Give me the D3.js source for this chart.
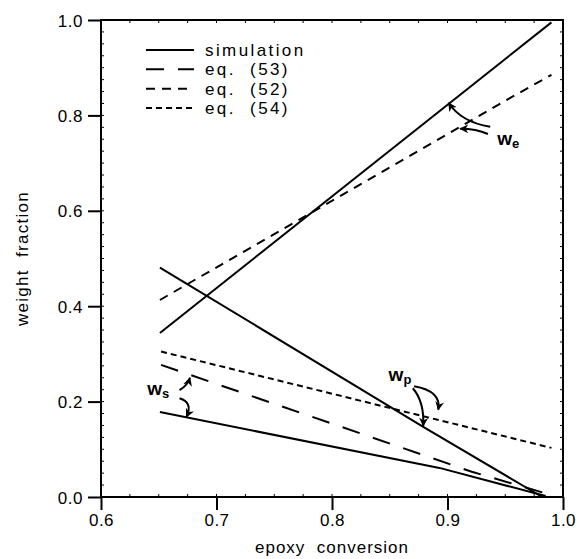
<!DOCTYPE html>
<html>
<head>
<meta charset="utf-8">
<script src="https://cdn.jsdelivr.net/npm/d3@7/dist/d3.min.js"></script>
<style>
  body { margin: 0; background: #fff; }
  text { font-family: "Liberation Sans", Arial, sans-serif; fill: #000; }
</style>
</head>
<body>
<svg id="chart" width="580" height="559"></svg>
<script>
// ---- data ----
const xTicks = [0.6, 0.7, 0.8, 0.9, 1.0];
const yTicks = [0.0, 0.2, 0.4, 0.6, 0.8, 1.0];

// simulation curves
const simWe = [[0.651, 0.344], [0.99, 0.995]];
const simWp = [[0.651, 0.481], [0.879, 0.147], [0.982, 0.0]];
const simWs = [[0.651, 0.178], [0.893, 0.061], [0.985, 0.002]];
// equations
const eq53Ws = [[0.652, 0.277], [0.921, 0.053], [0.99, 0.004]];
const eq52We = [[0.651, 0.413], [0.948, 0.828], [0.99, 0.885]];
const eq54Wp = [[0.652, 0.305], [0.99, 0.103]];

const legendLabels = ["simulation", "eq. (53)", "eq. (52)", "eq. (54)"];
const legendDash = [null, "18,14", "9,7", "6,4"];

// annotation labels [x, y, main, sub]
const annoLabels = [
  [0.943, 0.738, "w", "e"],
  [0.849, 0.243, "w", "p"],
  [0.640, 0.214, "w", "s"]
];
// annotation arrows: [start, control, tip]
const annoArrows = [
  [[0.937, 0.776], [0.912, 0.786], [0.901, 0.826]],
  [[0.935, 0.761], [0.925, 0.772], [0.911, 0.772]],
  [[0.871, 0.232], [0.895, 0.222], [0.892, 0.183]],
  [[0.870, 0.228], [0.880, 0.200], [0.879, 0.149]],
  [[0.668, 0.224], [0.675, 0.234], [0.677, 0.250]],
  [[0.668, 0.207], [0.680, 0.198], [0.674, 0.168]]
];

// ---- layout ----
const svg = d3.select("#chart");
const L = 101, R = 563, T = 20, B = 497;
const x = d3.scaleLinear().domain([0.6, 1.0]).range([L, R]);
const y = d3.scaleLinear().domain([0, 1]).range([B, T]);

const fmt = d3.format(".1f");

// minor ticks (inward)
const minorX = d3.range(0.6, 1.0001, 0.025);
const minorY = d3.range(0, 1.0001, 0.025);
const g = svg.append("g");
g.selectAll(".mxb").data(minorX).join("line")
  .attr("x1", d => x(d)).attr("x2", d => x(d))
  .attr("y1", B).attr("y2", B - 3).attr("stroke", "#000").attr("stroke-width", 1);
g.selectAll(".mxt").data(minorX).join("line")
  .attr("x1", d => x(d)).attr("x2", d => x(d))
  .attr("y1", T).attr("y2", T + 3).attr("stroke", "#000").attr("stroke-width", 1);
g.selectAll(".myl").data(minorY).join("line")
  .attr("x1", L).attr("x2", L + 3)
  .attr("y1", d => y(d)).attr("y2", d => y(d)).attr("stroke", "#000").attr("stroke-width", 1);
g.selectAll(".myr").data(minorY).join("line")
  .attr("x1", R).attr("x2", R - 3)
  .attr("y1", d => y(d)).attr("y2", d => y(d)).attr("stroke", "#000").attr("stroke-width", 1);

// axes
const xAxis = svg.append("g").attr("transform", `translate(0,${B})`)
  .call(d3.axisBottom(x).tickValues(xTicks).tickFormat(fmt).tickSize(13).tickPadding(4));
const yAxis = svg.append("g").attr("transform", `translate(${L},0)`)
  .call(d3.axisLeft(y).tickValues(yTicks).tickFormat(fmt).tickSize(13).tickPadding(5));
[xAxis, yAxis].forEach(a => {
  a.select(".domain").remove();
  a.selectAll("line").attr("stroke", "#000").attr("stroke-width", 2);
  a.selectAll("text").attr("font-size", 17).attr("letter-spacing", 0.5)
    .attr("font-family", "Liberation Sans, Arial, sans-serif");
});
yAxis.selectAll("text").attr("dy", "0.36em");

// frame
svg.append("rect").attr("x", L).attr("y", T).attr("width", R - L).attr("height", B - T)
  .attr("fill", "none").attr("stroke", "#000").attr("stroke-width", 2);

// axis titles
svg.append("text").attr("x", (L + R) / 2).attr("y", 553).attr("text-anchor", "middle")
  .attr("font-size", 17).attr("letter-spacing", 1).attr("xml:space", "preserve").text("epoxy  conversion");
svg.append("text").attr("transform", `translate(28,${(T + B) / 2}) rotate(-90)`)
  .attr("text-anchor", "middle").attr("font-size", 17).attr("letter-spacing", 1.3)
  .attr("xml:space", "preserve").text("weight  fraction");

// lines
const line = d3.line().x(d => x(d[0])).y(d => y(d[1]));
const series = [
  [simWe, null], [simWp, null], [simWs, null],
  [eq53Ws, legendDash[1]], [eq52We, legendDash[2]], [eq54Wp, legendDash[3]]
];
svg.selectAll(".series").data(series).join("path")
  .attr("d", d => line(d[0]))
  .attr("fill", "none").attr("stroke", "#000").attr("stroke-width", 2)
  .attr("stroke-dasharray", d => d[1]);

// legend
const lg = svg.append("g");
const legY = d3.scaleLinear().domain([0, 3]).range([50, 108]);
legendLabels.forEach((lab, i) => {
  lg.append("line").attr("x1", 146).attr("x2", 194)
    .attr("y1", legY(i)).attr("y2", legY(i))
    .attr("stroke", "#000").attr("stroke-width", 2)
    .attr("stroke-dasharray", legendDash[i]);
  lg.append("text").attr("x", 205).attr("y", legY(i)).attr("dy", "0.36em")
    .attr("font-size", 17).attr("letter-spacing", 2.4).attr("xml:space", "preserve")
    .text(lab.replace(" (", "  ("));
});

// arrowhead marker
svg.append("defs").append("marker").attr("id", "ah")
  .attr("viewBox", "0 0 10 10").attr("refX", 9).attr("refY", 5)
  .attr("markerWidth", 9).attr("markerHeight", 9).attr("markerUnits", "userSpaceOnUse")
  .attr("orient", "auto")
  .append("path").attr("d", "M0,0 L10,5 L0,10 L3,5 Z").attr("fill", "#000");

svg.selectAll(".arrow").data(annoArrows).join("path")
  .attr("d", d => `M${x(d[0][0])},${y(d[0][1])} Q${x(d[1][0])},${y(d[1][1])} ${x(d[2][0])},${y(d[2][1])}`)
  .attr("fill", "none").attr("stroke", "#000").attr("stroke-width", 2)
  .attr("marker-end", "url(#ah)");

annoLabels.forEach(a => {
  const t = svg.append("text").attr("x", x(a[0])).attr("y", y(a[1]))
    .attr("font-size", 19).attr("font-weight", "bold");
  t.append("tspan").text(a[2]);
  t.append("tspan").attr("font-size", 13).attr("dy", 3).text(a[3]);
});
</script>
</body>
</html>
